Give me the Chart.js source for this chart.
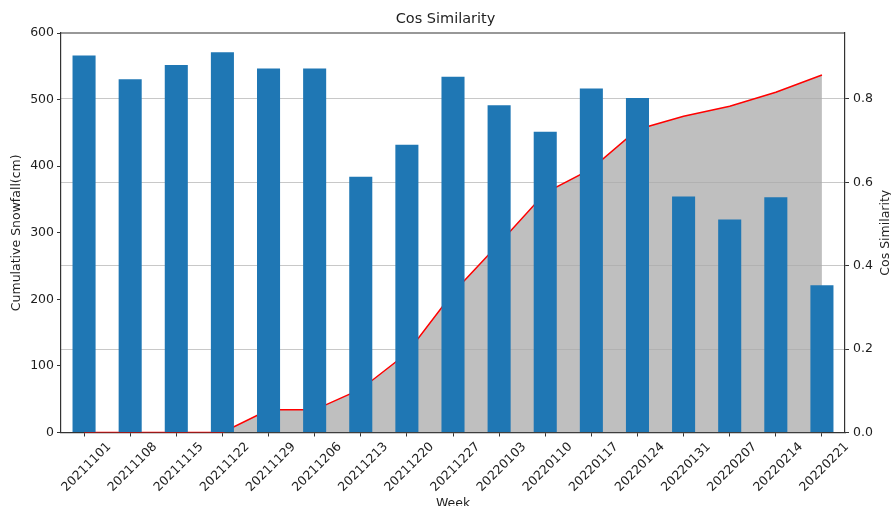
<!DOCTYPE html>
<html>
<head>
<meta charset="utf-8">
<script src="https://cdn.jsdelivr.net/npm/chart.js@4.4.1/dist/chart.umd.min.js"></script>
<style>
  html, body { margin: 0; padding: 0; background: #ffffff; }
  #wrap { width: 891px; height: 506px; }
</style>
</head>
<body>
<div id="wrap"><canvas id="chart" width="891" height="506"></canvas></div>
<script>
// Weekly series
const weeks = [
  '20211101', '20211108', '20211115', '20211122', '20211129', '20211206',
  '20211213', '20211220', '20211227', '20220103', '20220110', '20220117',
  '20220124', '20220131', '20220207', '20220214', '20220221'
];
// cumulative snowfall in cm (left axis, line + filled area)
const cumulativeSnowfall = [0, 0, 0, 0, 34, 34, 65, 119, 210, 284, 360, 396, 455, 475, 490, 511, 537];
// cosine similarity per week (right axis, bars)
const cosSimilarity = [0.904, 0.847, 0.881, 0.912, 0.873, 0.873, 0.613, 0.690, 0.853,
                       0.785, 0.721, 0.825, 0.802, 0.566, 0.511, 0.564, 0.353];
// axis ranges
const snowfallTicks = { min: 0, max: 600, step: 100 };
const cosTicks = { min: 0, max: 0.958, step: 0.2 };

const FONT = 'DejaVu Sans';
const TEXT_COLOR = '#1e1e1e';
const AXIS_COLOR = '#333333';
Chart.defaults.font.family = FONT;
Chart.defaults.font.size = 12.5;
Chart.defaults.color = TEXT_COLOR;

// full frame around the plot area (top edge) plus right-hand axis title
const framePlugin = {
  id: 'frame',
  afterDraw(chart) {
    const { ctx, chartArea } = chart;
    ctx.save();
    ctx.strokeStyle = AXIS_COLOR;
    ctx.lineWidth = 1.2;
    ctx.beginPath();
    ctx.moveTo(chartArea.left, chartArea.top);
    ctx.lineTo(chartArea.right, chartArea.top);
    ctx.stroke();

    const s = chart.scales.y1;
    ctx.translate(s.right - 5.5, (chartArea.top + chartArea.bottom) / 2);
    ctx.rotate(-Math.PI / 2);
    ctx.fillStyle = TEXT_COLOR;
    ctx.font = '12.5px "' + FONT + '"';
    ctx.textAlign = 'center';
    ctx.textBaseline = 'middle';
    ctx.fillText('Cos Similarity', 0, 0);
    ctx.restore();
  }
};

new Chart(document.getElementById('chart'), {
  type: 'bar',
  data: {
    labels: weeks,
    datasets: [
      {
        type: 'bar',
        label: 'Cos Similarity',
        data: cosSimilarity,
        yAxisID: 'y1',
        backgroundColor: '#1f77b4',
        borderWidth: 0,
        categoryPercentage: 1.0,
        barPercentage: 0.5,
        order: 0
      },
      {
        type: 'line',
        label: 'Cumulative Snowfall',
        data: cumulativeSnowfall,
        yAxisID: 'y',
        borderColor: '#ff0000',
        borderWidth: 1.5,
        backgroundColor: 'rgba(169,169,169,0.75)',
        fill: 'origin',
        tension: 0,
        pointRadius: 0,
        order: 1
      }
    ]
  },
  options: {
    responsive: false,
    animation: false,
    devicePixelRatio: 1,
    layout: { padding: 0 },
    plugins: {
      legend: { display: false },
      tooltip: { enabled: false },
      title: {
        display: true,
        text: 'Cos Similarity',
        color: TEXT_COLOR,
        font: { size: 14.5, weight: 'normal' },
        padding: { top: 11, bottom: 4.6 }
      }
    },
    scales: {
      x: {
        type: 'category',
        offset: true,
        grid: {
          offset: false,
          drawOnChartArea: false,
          drawTicks: true,
          tickLength: 4,
          tickColor: AXIS_COLOR,
          tickWidth: 1
        },
        border: { display: true, color: AXIS_COLOR, width: 1.2 },
        ticks: {
          minRotation: 45,
          maxRotation: 45,
          autoSkip: false,
          labelOffset: 25,
          padding: 3,
          color: TEXT_COLOR
        },
        title: {
          display: true,
          text: 'Week',
          color: TEXT_COLOR,
          font: { size: 12.5 },
          padding: { top: 0, bottom: -5 }
        },
        afterFit(scale) { scale.height = 73.5; }
      },
      y: {
        type: 'linear',
        position: 'left',
        min: snowfallTicks.min,
        max: snowfallTicks.max,
        grid: {
          drawOnChartArea: false,
          drawTicks: true,
          tickLength: 4,
          tickColor: AXIS_COLOR
        },
        border: { display: true, color: AXIS_COLOR, width: 1.2 },
        ticks: { stepSize: snowfallTicks.step, padding: 3, color: TEXT_COLOR },
        title: {
          display: true,
          text: 'Cumulative Snowfall(cm)',
          color: TEXT_COLOR,
          font: { size: 12.5 },
          padding: { top: 9, bottom: 0 }
        },
        afterFit(scale) { scale.width = 61; }
      },
      y1: {
        type: 'linear',
        position: 'right',
        min: cosTicks.min,
        max: cosTicks.max,
        grid: {
          drawOnChartArea: true,
          color: '#c8c8c8',
          lineWidth: 1,
          drawTicks: true,
          tickLength: 4,
          tickColor: AXIS_COLOR
        },
        border: { display: true, color: AXIS_COLOR, width: 1.2 },
        ticks: {
          stepSize: cosTicks.step,
          includeBounds: false,
          padding: 4,
          color: TEXT_COLOR,
          callback: (v) => Number(v).toFixed(1)
        },
        afterFit(scale) { scale.width = 46; }
      }
    }
  },
  plugins: [framePlugin]
});
</script>
</body>
</html>
